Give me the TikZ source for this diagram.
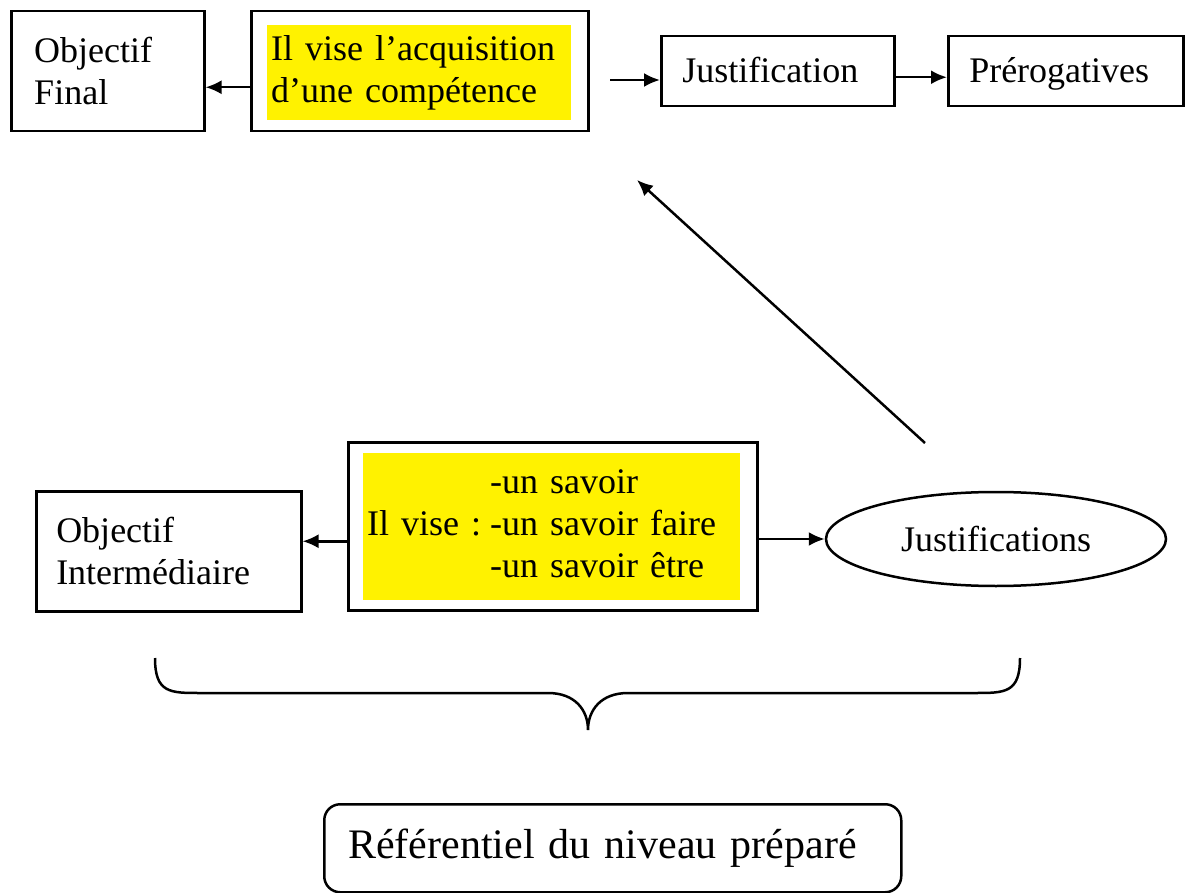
\documentclass[tikz,border=0pt]{standalone}
\usepackage{fontspec}
\setmainfont{Liberation Serif}
\usetikzlibrary{arrows.meta, shapes.geometric}
\tikzset{
>={Latex[length=16pt,width=14pt]}, % filled arrow heads
x=1pt, y=-1pt, % coordinates read like pixels from the top left
every node/.style={font=\fontsize{36}{42}\selectfont},
plainbox/.style={draw, line width=2.5pt, anchor=north west, align=left, inner ysep=0pt}, % framed text box
outerbox/.style={draw, line width=2.5pt, anchor=north west, inner sep=0pt}, % frame round the yellow text
hilite/.style={fill=yellow, anchor=north west, align=left, inner ysep=0pt, inner xsep=4pt}, % yellow text block
arr/.style={->, line width=2.5pt},
}
\begin{document}
\begin{tikzpicture}
\useasboundingbox (0,0) rectangle (1186,893);

% top row
\node[plainbox, inner xsep=23pt, text width=147pt, minimum height=120pt] (fin) at (10,10) {Objectif\\Final};
\node[outerbox, minimum width=337pt, minimum height=120pt] (compbox) at (250,10) {};
\node[hilite, text width=296pt, minimum height=95pt] (comp) at (267,25) {Il vise l’acquisition\\d’une compétence};
\node[plainbox, inner xsep=21pt, text width=191pt, minimum height=70pt, text height=28pt, text depth=6pt] (just) at (660,35) {Justification};
\node[plainbox, inner xsep=21pt, text width=193pt, minimum height=70pt, text height=28pt, text depth=6pt] (prer) at (947,35) {Prérogatives};

% lower row
\node[plainbox, inner xsep=20pt, text width=225pt, minimum height=120pt] (inter) at (35,490) {Objectif\\Intermédiaire};
\node[outerbox, minimum width=409pt, minimum height=168pt] (savbox) at (347,441) {};
\node[hilite, text width=369pt, minimum height=147pt] (sav) at (363,453) {\begin{tabular}{@{}l@{}l@{}} & -un savoir\\ Il vise :\hspace{9pt}\mbox{} & -un savoir faire\\ & -un savoir être\end{tabular}};
\node[ellipse, draw, line width=2.5pt, minimum width=340pt, minimum height=94pt, inner sep=0pt] (justs) at (996,539) {Justifications};

% bottom
\node[plainbox, rounded corners=16pt, inner xsep=24pt, text width=529pt, minimum height=88pt, font=\fontsize{42}{50}\selectfont] (ref) at (323,803) {Référentiel du niveau préparé};

% arrows
\coordinate (ca) at ([yshift=-16pt]compbox.west);
\coordinate (cj) at (610,80);
\coordinate (jp) at ([yshift=-6pt]just.east);
\coordinate (si) at ([yshift=-15pt]savbox.west);
\coordinate (dstart) at (925,443);
\coordinate (dtip) at (637,180);
\draw[arr] (ca) -- (ca -| fin.east);
\draw[arr] (cj) -- (cj -| just.west);
\draw[arr] (jp) -- (jp -| prer.west);
\draw[arr] (si) -- (si -| inter.east);
\draw[arr] (savbox.east |- justs.west) -- (justs.west);
\draw[arr] (dstart) -- (dtip);

% brace
\coordinate (bl) at (155,658);
\coordinate (br) at (1020,658);
\coordinate (tip) at (588,730);
\draw[line width=2.5pt] (bl) .. controls (155,693) and (170,693) .. (200,693) -- (548,693)
  .. controls (575,693) and (588,710) .. (tip)
  .. controls (588,710) and (601,693) .. (628,693) -- (975,693)
  .. controls (1005,693) and (1020,693) .. (br);
\end{tikzpicture}
\end{document}
